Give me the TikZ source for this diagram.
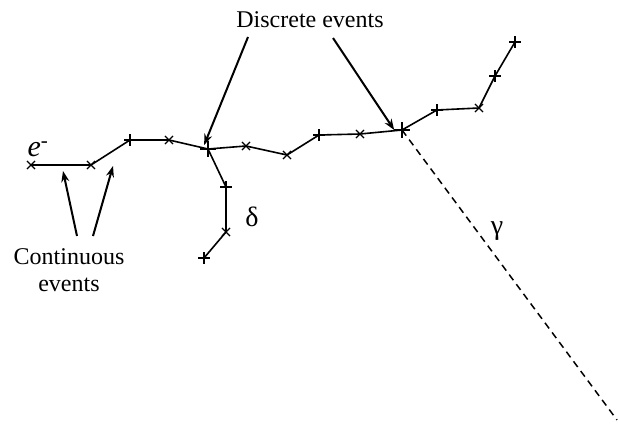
\documentclass[tikz,border=0pt]{standalone}
\usepackage{fontspec}
\setmainfont{Liberation Serif}
\usetikzlibrary{shapes.misc,arrows.meta}
\begin{document}
\begin{tikzpicture}[x=1pt,y=-1pt,
  trk/.style={line width=1.6pt},
  ev/.style={cross out,draw,line width=1.1pt,minimum size=7pt,inner sep=0pt},
  evp/.style={ev,rotate=45},
  disc/.style={cross out,draw,line width=2pt,minimum size=9pt,inner sep=0pt,rotate=45},
  lab/.style={font=\fontsize{24}{26}\selectfont,inner sep=0pt},
  arr/.style={line width=2pt,-{Stealth[length=11pt,width=8pt]}}]
\useasboundingbox (0,0) rectangle (619,439);
% electron track
\node[ev]  (p1) at (31,165) {};
\node[ev]  (p2) at (91,165) {};
\node[evp] (p3) at (130,140) {};
\node[ev]  (p4) at (169,140) {};
\node[disc] (p5) at (208,149) {};
\node[ev]  (p6) at (246,146) {};
\node[ev]  (p7) at (287,155) {};
\node[evp] (p8) at (319,135) {};
\node[ev]  (p9) at (360,134) {};
\node[disc] (p10) at (402,130) {};
\node[evp] (p11) at (437,110) {};
\node[ev]  (p12) at (479,108) {};
\node[evp] (p13) at (495,76) {};
\node[evp] (p14) at (515,42) {};
\draw[trk] (p1.center) -- (p2.center) -- (p3.center) -- (p4.center) -- (p5.center) -- (p6.center) -- (p7.center) -- (p8.center) -- (p9.center) -- (p10.center) -- (p11.center) -- (p12.center) -- (p13.center) -- (p14.center);
% delta ray
\node[evp] (d1) at (226,187) {};
\node[ev]  (d2) at (226,232) {};
\node[evp] (d3) at (204,258) {};
\draw[trk] (p5.center) -- (d1.center) -- (d2.center) -- (d3.center);
% gamma
\coordinate (gend) at (617,420);
\draw[line width=1.5pt,dash pattern=on 7pt off 5pt] (p10.center) -- (gend);
% labels
\node[lab,font=\fontsize{30}{32}\selectfont] (el) at (38,149) {\itshape e\textsuperscript{-}};
\node[lab] (de) at (310,20) {Discrete events};
\node[lab,font=\fontsize{28}{30}\selectfont] (dl) at (252,217) {δ};
\node[lab,font=\fontsize{28}{30}\selectfont] (gl) at (497,231) {γ};
\node[lab,align=center,font=\fontsize{24}{27}\selectfont] (ce) at (69,270) {Continuous\\events};
% arrows
\coordinate (a1) at (248,37);
\coordinate (a2) at (333,38);
\coordinate (b1) at (77,236);
\coordinate (b2) at (93,236);
\draw[arr] (a1) -- (p5.north);
\draw[arr] (a2) -- (p10.north west);
\coordinate (t1) at (63,171);
\coordinate (t2) at (113,166);
\draw[arr] (b1) -- (t1);
\draw[arr] (b2) -- (t2);
\end{tikzpicture}
\end{document}
